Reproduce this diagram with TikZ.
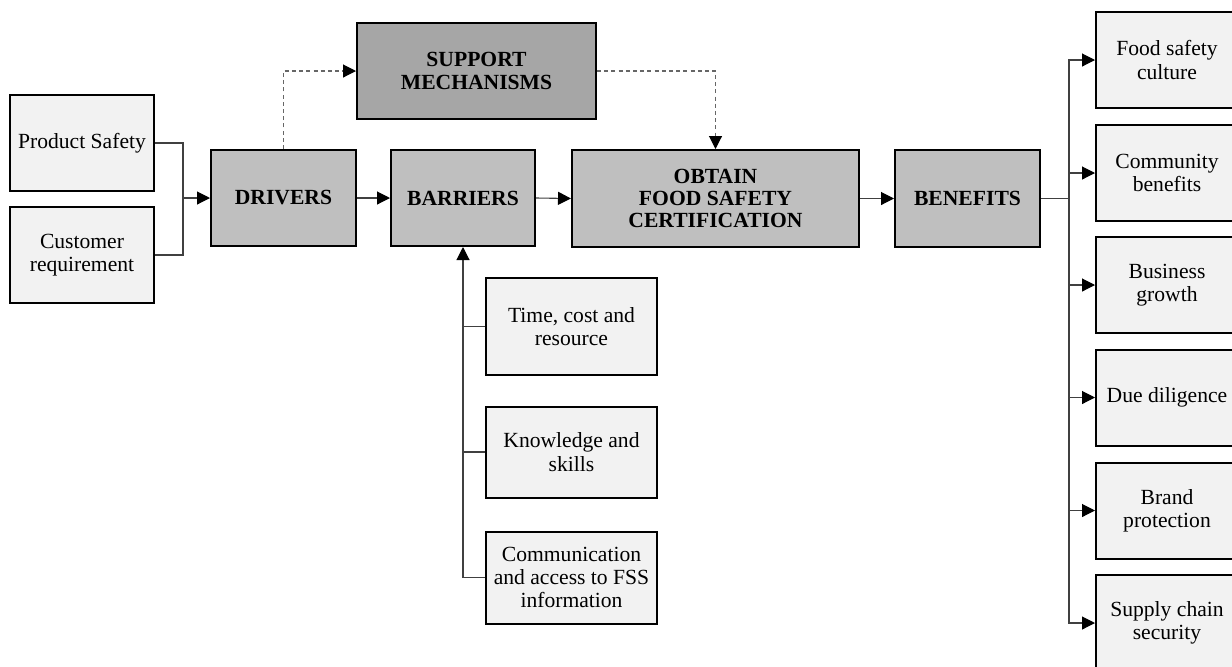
\documentclass[tikz,border=0pt]{standalone}
\usepackage{fontspec}
\setmainfont{Liberation Serif}
\usetikzlibrary{arrows.meta}
\definecolor{lightbox}{HTML}{F2F2F2}
\definecolor{mainbox}{HTML}{BFBFBF}
\definecolor{supbox}{HTML}{A6A6A6}
\definecolor{conn}{HTML}{404040}
\tikzset{
  base/.style={draw=black, line width=1pt, rectangle, inner sep=0pt, align=center,
    font=\fontsize{10.8}{11.7}\selectfont},
  light/.style={base, fill=lightbox},
  main/.style={base, fill=mainbox, font=\fontsize{10.8}{11.2}\selectfont\bfseries},
  sup/.style={main, fill=supbox},
  wire/.style={draw=conn, line width=0.55pt},
  arr/.style={wire, -{Triangle[length=6.5pt,width=6.5pt,color=black]}},
  dashline/.style={draw=conn!80, line width=0.55pt, dash pattern=on 2pt off 1.6pt, -{Triangle[length=6.5pt,width=6.5pt,color=black]}}
}
\begin{document}
\begin{tikzpicture}[x=0.5pt,y=-0.5pt]
\useasboundingbox (0,0) rectangle (1232,666);
\clip (0,0) rectangle (1232,666);
\fill[white] (0,0) rectangle (1232,666);
% left inputs
\node[light, minimum width=72pt, minimum height=48pt] (ps) at (82,143) {Product Safety};
\node[light, minimum width=72pt, minimum height=48pt] (cr) at (82,255) {Customer\\requirement};
% main chain
\node[main, minimum width=72.5pt, minimum height=48pt] (drv) at (283.5,198) {DRIVERS};
\node[main, minimum width=72pt, minimum height=48pt] (bar) at (463,198) {BARRIERS};
\node[sup, minimum width=119.5pt, minimum height=48pt] (sup) at (476.5,71) {SUPPORT\\MECHANISMS};
\node[main, minimum width=143.5pt, minimum height=48.5pt] (obt) at (715.5,198.5) {OBTAIN\\FOOD SAFETY\\CERTIFICATION};
\node[main, minimum width=72.5pt, minimum height=48.5pt] (ben) at (967.5,198.5) {BENEFITS};
% barriers detail
\node[light, minimum width=85.5pt, minimum height=48.5pt] (t1) at (571.5,326.5) {Time, cost and\\resource};
\node[light, minimum width=85.5pt, minimum height=45.5pt] (t2) at (571.5,452) {Knowledge and\\skills};
\node[light, minimum width=85.5pt, minimum height=46pt] (t3) at (571.5,577.5) {Communication\\and access to FSS\\information};
% benefits list
\node[light, minimum width=71pt, minimum height=48pt] (r1) at (1167,60) {Food safety\\culture};
\node[light, minimum width=71pt, minimum height=48pt] (r2) at (1167,173) {Community\\benefits};
\node[light, minimum width=71pt, minimum height=48pt] (r3) at (1167,285) {Business\\growth};
\node[light, minimum width=71pt, minimum height=48pt] (r4) at (1167,397.5) {Due diligence};
\node[light, minimum width=71pt, minimum height=48pt] (r5) at (1167,510.5) {Brand\\protection};
\node[light, minimum width=71pt, minimum height=48pt] (r6) at (1167,623) {Supply chain\\security};
% connectors
\coordinate (j1) at (183,198);
\draw[wire] (ps.east) -| (j1);
\draw[wire] (cr.east) -| (j1);
\draw[arr] (j1) -- (drv.west);
\draw[arr] (drv.east) -- (bar.west);
\draw[arr] (bar.east) -- (obt.west);
\draw[arr] (obt.east) -- (ben.west);
\draw[dashline] (drv.north) |- (sup.west);
\draw[dashline] (sup.east) -| (obt.north);
\draw[wire] (t1.west) -- (t1.west -| bar.south);
\draw[wire] (t2.west) -- (t2.west -| bar.south);
\draw[arr] (t3.west) -| (bar.south);
\coordinate (j2) at (1069,198.5);
\draw[wire] (ben.east) -- (j2);
\draw[arr] (j2) |- (r1.west);
\draw[arr] (j2) |- (r2.west);
\draw[arr] (j2) |- (r3.west);
\draw[arr] (j2) |- (r4.west);
\draw[arr] (j2) |- (r5.west);
\draw[arr] (j2) |- (r6.west);
\end{tikzpicture}
\end{document}
